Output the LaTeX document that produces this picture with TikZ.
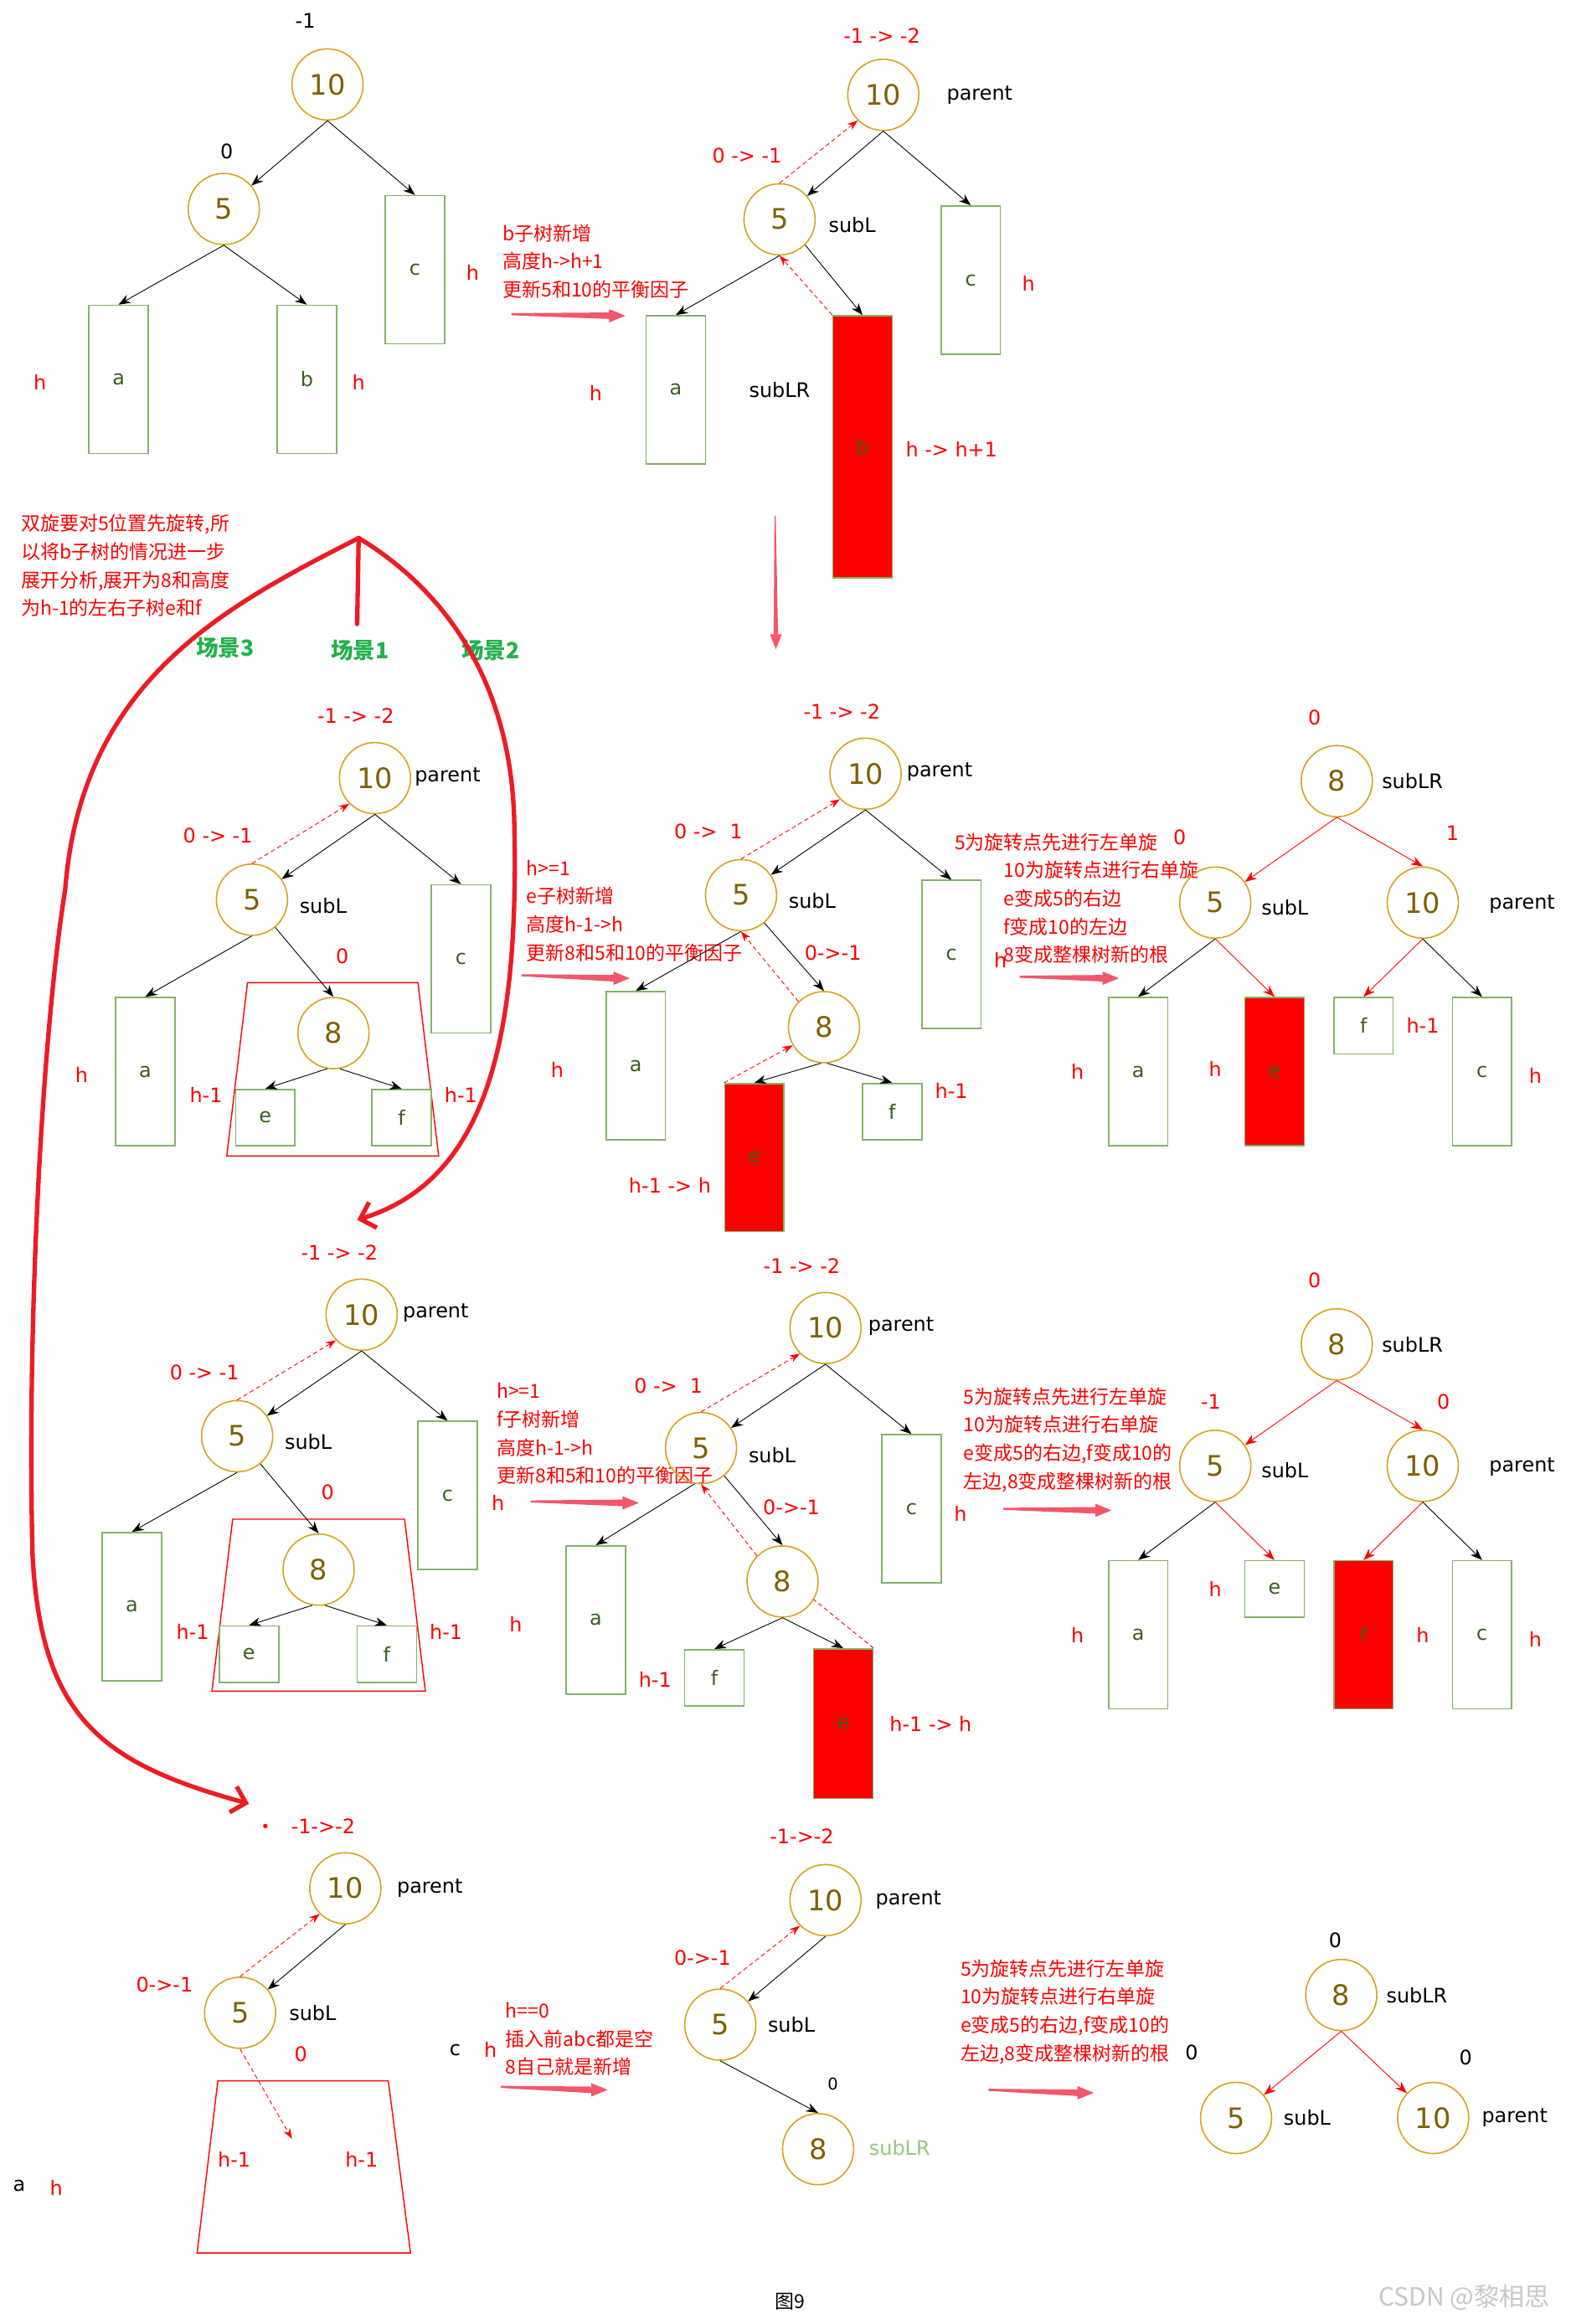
\documentclass[tikz,border=0pt]{standalone}
\usepackage{fontspec}
\usepackage{xcolor}
\usepackage{tikz}
\usetikzlibrary{arrows.meta,calc}

\newfontfamily\labelfamily{DejaVu Sans}
\newfontfamily\cjk{Noto Sans CJK SC}
\newcommand{\numfont}{\labelfamily\fontsize{19}{22}\selectfont}
\newcommand{\lblfont}{\labelfamily\fontsize{13.5}{16}\selectfont}
\newcommand{\tinyfont}{\labelfamily\fontsize{11}{13}\selectfont}
\newcommand{\notefont}{\cjk\fontsize{13}{19}\selectfont}

\definecolor{nodeorange}{HTML}{D9A21E}
\definecolor{numbrown}{HTML}{7F6000}
\definecolor{boxgreen}{HTML}{82B366}
\definecolor{boxtext}{HTML}{3A5F1B}
\definecolor{fatred}{HTML}{F2576A}
\definecolor{handred}{HTML}{ED1C24}
\definecolor{scenegreen}{HTML}{22B14C}
\definecolor{lightgreen}{HTML}{97C77A}
\definecolor{markgray}{HTML}{C8C8C8}

\tikzset{
  bal/.style={circle, draw=nodeorange, line width=0.9pt, minimum size=48pt, inner sep=0pt, font=\numfont, text=numbrown},
  subtree/.style={draw=boxgreen, line width=0.9pt, minimum width=40pt, minimum height=100pt, inner sep=0pt, font=\lblfont, text=boxtext},
  smallbox/.style={subtree, minimum height=38pt},
  grown/.style={subtree, fill=red},
  link/.style={line width=0.5pt, -{Stealth[length=8pt,width=6pt]}},
  rlink/.style={link, red},
  upd/.style={red, line width=0.5pt, dash pattern=on 3pt off 2pt, -{Stealth[length=7pt,width=5pt]}},
  role/.style={font=\lblfont},
  bf/.style={font=\lblfont, text=red},
  memo/.style={font=\notefont, text=red, align=left, anchor=north west, inner sep=0pt},
  hand/.style={handred, line width=3pt, line cap=round},
  trap/.style={red, line width=0.8pt},
}

\newcommand{\fatarrow}[2]{%
  \fill[fatred] ($(#1)+(0,-0.7)$) -- ($(#2)+(-11,-2.2)$) -- ($(#2)+(-11,-4.5)$) -- (#2)
    -- ($(#2)+(-11,4.5)$) -- ($(#2)+(-11,2.2)$) -- ($(#1)+(0,0.7)$) -- cycle;}

\begin{document}
\begin{tikzpicture}[x=1pt,y=-1pt]
\fill[white] (0,0) rectangle (1060,1568);
\useasboundingbox (0,0) rectangle (1060,1568);

% before insertion
\node[role] at (206,14) {-1};
\node[bal] (A-10) at (221,57) {10};
\node[role] at (153,102) {0};
\node[bal] (A-5) at (151,141) {5};
\node[subtree] (A-c) at (280,182) {c};
\node[subtree] (A-a) at (80,256) {a};
\node[subtree] (A-b) at (207,256) {b};
\node[bf] at (319,184) {h};
\node[bf] at (27,258) {h};
\node[bf] at (242,258) {h};
\draw[link] (A-10.south) -- (A-5);
\draw[link] (A-10.south) -- (A-c.north);
\draw[link] (A-5.south) -- (A-a.north);
\draw[link] (A-5.south) -- (A-b.north);

\node[memo] at (339,151) {b子树新增\\高度h->h+1\\更新5和10的平衡因子};
\coordinate (s1) at (345,212);
\coordinate (t1) at (422,213);
\fatarrow{s1}{t1}

% b grows
\node[bf] at (595,24) {-1 -> -2};
\node[bal] (B-10) at (596,64) {10};
\node[role] at (661,64) {parent};
\node[bf] at (504,105) {0 -> -1};
\node[bal] (B-5) at (526,148) {5};
\node[role] at (575,152) {subL};
\node[subtree] (B-c) at (655,189) {c};
\node[bf] at (694,191) {h};
\node[subtree] (B-a) at (456,263) {a};
\node[bf] at (402,265) {h};
\node[role] at (526,263) {subLR};
\node[grown, minimum height=177pt] (B-b) at (582,301.5) {b};
\node[bf] at (642,303) {h -> h+1};
\draw[link] (B-10.south) -- (B-5);
\draw[link] (B-10.south) -- (B-c.north);
\draw[link] (B-5.south) -- (B-a.north);
\draw[link] (B-5.-45) -- (B-b.north);
\draw[upd] (B-5.north) -- (B-10.-135);
\draw[upd] (B-b.north west) -- (B-5.south);

\fill[fatred] (522.6,348) -- (522,428) -- (519.5,428) -- (523.5,438) -- (527.5,428) -- (525,428) -- (523.4,348) -- cycle;

\node[memo] at (14,347) {双旋要对5位置先旋转,所\\以将b子树的情况进一步\\展开分析,展开为8和高度\\为h-1的左右子树e和f};
\node[font=\cjk\fontsize{15}{18}\selectfont\bfseries, text=scenegreen] at (152,437) {场景3};
\node[font=\cjk\fontsize{15}{18}\selectfont\bfseries, text=scenegreen] at (243,439) {场景1};
\node[font=\cjk\fontsize{15}{18}\selectfont\bfseries, text=scenegreen] at (331,439) {场景2};

% scene 1: e grows
\node[bf] at (240,483) {-1 -> -2};
\node[bal] (C-10) at (253,525) {10};
\node[role] at (302,524) {parent};
\node[bf] at (147,564) {0 -> -1};
\node[bal] (C-5) at (170,607) {5};
\node[role] at (218,611) {subL};
\node[subtree] (C-c) at (311,647) {c};
\node[subtree] (C-a) at (98,723) {a};
\node[bf] at (55,725) {h};
\node[bf] at (231,645) {0};
\draw[trap] (167,663) -- (282,663) -- (296,780) -- (153,780) -- cycle;
\node[bal] (C-8) at (225,697) {8};
\node[smallbox] (C-e) at (179,754) {e};
\node[smallbox] (C-f) at (271,754) {f};
\node[bf] at (139,739) {h-1};
\node[bf] at (311,739) {h-1};
\draw[link] (C-10.south) -- (C-5);
\draw[link] (C-10.south) -- (C-c.north);
\draw[link] (C-5.south) -- (C-a.north);
\draw[link] (C-5.-50) -- (C-8.north);
\draw[link] (C-8.-100) -- (C-e.north);
\draw[link] (C-8.-80) -- (C-f.north);
\draw[upd] (C-5.north) -- (C-10.-135);

\node[memo] at (355,580) {h>=1\\e子树新增\\高度h-1->h\\更新8和5和10的平衡因子};
\coordinate (s2) at (352,658);
\coordinate (t2) at (425,660);
\fatarrow{s2}{t2}

\node[bf] at (568,480) {-1 -> -2};
\node[bal] (D-10) at (584,522) {10};
\node[role] at (634,521) {parent};
\node[bf] at (478,561) {0 -> \ 1};
\node[bal] (D-5) at (500,604) {5};
\node[role] at (548,608) {subL};
\node[subtree] (D-c) at (642,644) {c};
\node[bf] at (675,648) {h};
\node[subtree] (D-a) at (429,719) {a};
\node[bf] at (376,722) {h};
\node[bf] at (562,643) {0->-1};
\node[bal] (D-8) at (556,693) {8};
\node[grown] (D-e) at (509,781) {e};
\node[bf] at (452,800) {h-1 -> h};
\node[smallbox] (D-f) at (602,750) {f};
\node[bf] at (642,736) {h-1};
\draw[link] (D-10.south) -- (D-5);
\draw[link] (D-10.south) -- (D-c.north);
\draw[link] (D-5.south) -- (D-a.north);
\draw[link] (D-5.-50) -- (D-8.north);
\draw[link] (D-8.-95) -- (D-e.north);
\draw[link] (D-8.-85) -- (D-f.north);
\draw[upd] (D-5.north) -- (D-10.-135);
\draw[upd] (D-8.135) -- (D-5.south);
\draw[upd] (D-e.north west) -- (D-8.210);

\node[memo] at (644,562) {5为旋转点先进行左单旋};
\node[memo] at (677,581) {10为旋转点进行右单旋\\e变成5的右边\\f变成10的左边\\8变成整棵树新的根};
\coordinate (s3) at (688,659);
\coordinate (t3) at (755,660);
\fatarrow{s3}{t3}

\node[bf] at (887,484) {0};
\node[bal] (E-8) at (902,527) {8};
\node[role] at (953,527) {subLR};
\node[bf] at (796,565) {0};
\node[bf] at (980,562) {1};
\node[bal] (E-5) at (820,609) {5};
\node[role] at (867,612) {subL};
\node[bal] (E-10) at (960,609) {10};
\node[role] at (1027,610) {parent};
\node[subtree] (E-a) at (768,723) {a};
\node[bf] at (727,723) {h};
\node[grown] (E-e) at (860,723) {e};
\node[bf] at (820,721) {h};
\node[smallbox] (E-f) at (920,692) {f};
\node[bf] at (960,692) {h-1};
\node[subtree] (E-c) at (1000,723) {c};
\node[bf] at (1036,726) {h};
\draw[rlink] (E-8.south) -- (E-5);
\draw[rlink] (E-8.south) -- (E-10.north);
\draw[link] (E-5.south) -- (E-a.north);
\draw[rlink] (E-5.south) -- (E-e.north);
\draw[rlink] (E-10.south) -- (E-f.north);
\draw[link] (E-10.south) -- (E-c.north);

% scene 2: f grows
\node[bf] at (229,845) {-1 -> -2};
\node[bal] (F-10) at (244,887) {10};
\node[role] at (294,886) {parent};
\node[bf] at (138,926) {0 -> -1};
\node[bal] (F-5) at (160,969) {5};
\node[role] at (208,973) {subL};
\node[subtree] (F-c) at (302,1009) {c};
\node[bf] at (221,1007) {0};
\draw[trap] (157,1025) -- (273,1025) -- (287,1141) -- (143,1141) -- cycle;
\node[bal] (F-8) at (215,1059) {8};
\node[smallbox] (F-e) at (168,1116) {e};
\node[smallbox] (F-f) at (261,1116) {f};
\node[bf] at (130,1101) {h-1};
\node[bf] at (301,1101) {h-1};
\node[subtree] (F-a) at (89,1084) {a};
\node[bf] at (336,1014) {h};
\draw[link] (F-10.south) -- (F-5);
\draw[link] (F-10.south) -- (F-c.north);
\draw[link] (F-5.south) -- (F-a.north);
\draw[link] (F-5.-50) -- (F-8.north);
\draw[link] (F-8.-100) -- (F-e.north);
\draw[link] (F-8.-80) -- (F-f.north);
\draw[upd] (F-5.north) -- (F-10.-135);

\node[memo] at (335,933) {h>=1\\f子树新增\\高度h-1->h\\更新8和5和10的平衡因子};
\coordinate (s4) at (358,1013);
\coordinate (t4) at (431,1014);
\fatarrow{s4}{t4}

\node[bf] at (541,854) {-1 -> -2};
\node[bal] (G-10) at (557,896) {10};
\node[role] at (608,895) {parent};
\node[bf] at (451,935) {0 -> \ 1};
\node[bal] (G-5) at (473,977) {5};
\node[role] at (521,982) {subL};
\node[subtree] (G-c) at (615,1018) {c};
\node[bf] at (648,1021) {h};
\node[subtree] (G-a) at (402,1093) {a};
\node[bf] at (348,1096) {h};
\node[bf] at (534,1017) {0->-1};
\node[bal] (G-8) at (528,1067) {8};
\node[smallbox] (G-f) at (482,1132) {f};
\node[bf] at (442,1133) {h-1};
\node[grown, minimum height=101pt] (G-e) at (569,1163) {e};
\node[bf] at (628,1163) {h-1 -> h};
\draw[link] (G-10.south) -- (G-5);
\draw[link] (G-10.south) -- (G-c.north);
\draw[link] (G-5.-100) -- (G-a.north);
\draw[link] (G-5.-50) -- (G-8.north);
\draw[link] (G-8.south) -- (G-f.north);
\draw[link] (G-8.south) -- (G-e.north);
\draw[upd] (G-5.north) -- (G-10.-135);
\draw[upd] (G-8.135) -- (G-5.south);
\draw[red, line width=0.5pt, dash pattern=on 3pt off 2pt] (G-e.north east) -- (G-8.-30);

\node[memo] at (650,936) {5为旋转点先进行左单旋\\10为旋转点进行右单旋\\e变成5的右边,f变成10的\\左边,8变成整棵树新的根};
\coordinate (s5) at (677,1018);
\coordinate (t5) at (750,1019);
\fatarrow{s5}{t5}

\node[bf] at (887,864) {0};
\node[bal] (H-8) at (902,907) {8};
\node[role] at (953,907) {subLR};
\node[bf] at (817,946) {-1};
\node[bf] at (974,946) {0};
\node[bal] (H-5) at (820,989) {5};
\node[role] at (867,992) {subL};
\node[bal] (H-10) at (960,989) {10};
\node[role] at (1027,990) {parent};
\node[subtree] (H-a) at (768,1103) {a};
\node[bf] at (727,1103) {h};
\node[smallbox] (H-e) at (860,1072) {e};
\node[bf] at (820,1072) {h};
\node[grown] (H-f) at (920,1103) {f};
\node[bf] at (960,1103) {h};
\node[subtree] (H-c) at (1000,1103) {c};
\node[bf] at (1036,1106) {h};
\draw[rlink] (H-8.south) -- (H-5);
\draw[rlink] (H-8.south) -- (H-10.north);
\draw[link] (H-5.south) -- (H-a.north);
\draw[rlink] (H-5.south) -- (H-e.north);
\draw[rlink] (H-10.south) -- (H-f.north);
\draw[link] (H-10.south) -- (H-c.north);

% scene 3: 8 is the new node
\fill[red] (179,1232) circle (1.5);
\node[bf] at (218,1232) {-1->-2};
\node[bal] (I-10) at (233,1274) {10};
\node[role] at (290,1274) {parent};
\node[bf] at (111,1339) {0->-1};
\node[bal] (I-5) at (162,1358) {5};
\node[role] at (211,1358) {subL};
\node[bf] at (203,1386) {0};
\draw[trap] (147,1404) -- (262,1404) -- (277,1520) -- (133,1520) -- cycle;
\node[bf] at (158,1457) {h-1};
\node[bf] at (244,1457) {h-1};
\node[role] at (13,1475) {a};
\node[bf] at (38,1476) {h};
\node[role] at (307,1383) {c};
\node[bf] at (331,1383) {h};
\coordinate (I-new) at (197,1443);
\draw[link] (I-10.south) -- (I-5);
\draw[upd] (I-5.north) -- (I-10.-135);
\draw[upd] (I-5.south) -- (I-new);

\node[memo] at (341,1351) {h==0\\插入前abc都是空\\8自己就是新增};
\coordinate (s6) at (338,1408);
\coordinate (t6) at (410,1410);
\fatarrow{s6}{t6}

\node[bf] at (541,1239) {-1->-2};
\node[bal] (J-10) at (557,1282) {10};
\node[role] at (613,1282) {parent};
\node[bf] at (474,1321) {0->-1};
\node[bal] (J-5) at (486,1366) {5};
\node[role] at (534,1366) {subL};
\node[font=\tinyfont] at (562,1406) {0};
\node[bal] (J-8) at (552,1450) {8};
\node[role, text=lightgreen] at (607,1449) {subLR};
\draw[link] (J-10.south) -- (J-5);
\draw[link] (J-5.south) -- (J-8.north);
\draw[upd] (J-5.north) -- (J-10.-135);

\node[memo] at (648,1322) {5为旋转点先进行左单旋\\10为旋转点进行右单旋\\e变成5的右边,f变成10的\\左边,8变成整棵树新的根};
\node[role] at (804,1385) {0};
\coordinate (s7) at (667,1410);
\coordinate (t7) at (738,1412);
\fatarrow{s7}{t7}

\node[role] at (901,1309) {0};
\node[bal] (K-8) at (905,1346) {8};
\node[role] at (956,1346) {subLR};
\node[role] at (989,1388) {0};
\node[bal] (K-5) at (834,1429) {5};
\node[role] at (882,1429) {subL};
\node[bal] (K-10) at (967,1429) {10};
\node[role] at (1022,1429) {parent};
\draw[rlink] (K-8.south) -- (K-5);
\draw[rlink] (K-8.south) -- (K-10);

\node[font=\cjk\fontsize{13}{15}\selectfont] at (533,1553) {图9};
\node[font=\cjk\fontsize{17}{20}\selectfont, text=markgray] at (988,1550) {CSDN @黎相思};

% hand-drawn scene pointers
\coordinate (fork) at (242,363);
\coordinate (to-s1) at (241,421);
\coordinate (to-s2) at (241,823);
\coordinate (to-s3) at (168,1217);
\draw[hand] (fork) -- (to-s1);
\draw[hand, -{Straight Barb[length=9pt,width=18pt]}] (fork) .. controls (300,398) and (345,460) .. (347,555) .. controls (350,690) and (333,795) .. (to-s2);
\draw[hand, -{Straight Barb[length=9pt,width=18pt]}] (fork) .. controls (150,410) and (55,460) .. (44,600) .. controls (28,700) and (18,900) .. (22,1050) .. controls (28,1160) and (70,1190) .. (to-s3);
\end{tikzpicture}
\end{document}
